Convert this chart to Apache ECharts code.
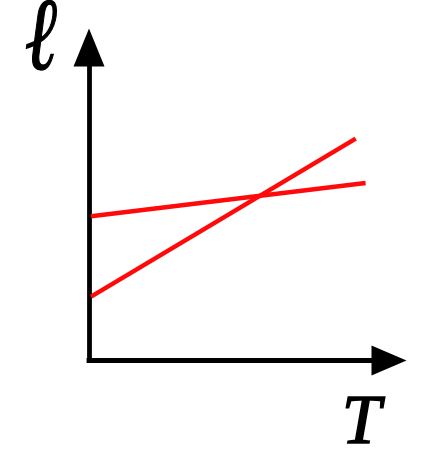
<!DOCTYPE html>
<html>
<head>
<meta charset="utf-8">
<script src="https://cdn.jsdelivr.net/npm/echarts@6/dist/echarts.min.js"></script>
<style>
html,body{margin:0;padding:0;background:#fff;}
#chart{width:431px;height:469px;}
</style>
</head>
<body>
<div id="chart"></div>
<script>
// Data (arbitrary units)
var axisXName = 'T';
var axisYName = 'ℓ';
var line1T = [0.07, 9.22];
var line1L = [4.61, 5.67];
var line2T = [0.07, 8.89];
var line2L = [2.04, 7.09];

function pairs(xs, ys) { return xs.map(function (x, i) { return [x, ys[i]]; }); }

var chart = echarts.init(document.getElementById('chart'));
var axisLine = function (size) {
  return {
    show: true,
    symbol: ['none', 'triangle'],
    symbolSize: size,
    lineStyle: { color: '#000', width: 4.8, cap: 'square' }
  };
};
chart.setOption({
  animation: false,
  backgroundColor: '#fff',
  grid: { left: 89, top: 47.5, right: 42, bottom: 108.5 },
  xAxis: {
    type: 'value', min: 0, max: 10,
    axisLine: axisLine([30, 35]),
    axisTick: { show: false }, axisLabel: { show: false }, splitLine: { show: false }
  },
  yAxis: {
    type: 'value', min: 0, max: 10,
    axisLine: axisLine([31, 38]),
    axisTick: { show: false }, axisLabel: { show: false }, splitLine: { show: false }
  },
  series: [
    { type: 'line', data: pairs(line1T, line1L), showSymbol: false, lineStyle: { color: '#ff0a0a', width: 4.5 } },
    { type: 'line', data: pairs(line2T, line2L), showSymbol: false, lineStyle: { color: '#ff0a0a', width: 4.5 } }
  ],
  graphic: [
    { type: 'text', x: 26, y: -9.5, scaleX: 0.84, scaleY: 1.12, style: { text: axisYName, font: 'italic bold 92px "DejaVu Serif", "Liberation Serif", serif', fill: '#000', stroke: '#000', lineWidth: 1.2 } },
    { type: 'text', left: 341, top: 389, style: { text: axisXName, font: 'italic 70px "Liberation Serif", serif', fill: '#000', stroke: '#000', lineWidth: 1.5 } }
  ]
});
</script>
</body>
</html>
